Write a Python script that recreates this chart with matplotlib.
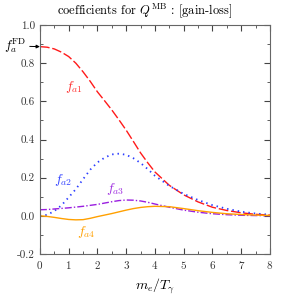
import numpy as np
import matplotlib
matplotlib.use('Agg')
import matplotlib.pyplot as plt

plt.rcParams['font.family'] = 'serif'
plt.rcParams['font.serif'] = ['cmr10', 'DejaVu Serif']
plt.rcParams['mathtext.fontset'] = 'cm'
plt.rcParams['axes.unicode_minus'] = False
plt.rcParams['axes.formatter.use_mathtext'] = True

# values
x = [0, 0.25, 0.5, 0.75, 1, 1.25, 1.5, 1.75, 2, 2.25, 2.5, 2.75, 3, 3.25, 3.5,
     3.75, 4, 4.5, 5, 5.5, 6, 6.5, 7, 7.5, 8]
fa1 = [0.887, 0.884, 0.875, 0.858, 0.835, 0.800, 0.755, 0.705, 0.650, 0.603, 0.555,
       0.503, 0.449, 0.390, 0.330, 0.278, 0.230, 0.160, 0.110, 0.073, 0.045,
       0.028, 0.016, 0.008, 0.004]
fa2 = [0.0, 0.005, 0.025, 0.055, 0.097, 0.140, 0.192, 0.242, 0.280, 0.305, 0.322,
       0.326, 0.320, 0.302, 0.277, 0.245, 0.210, 0.157, 0.115, 0.083, 0.056,
       0.037, 0.022, 0.012, 0.006]
fa3 = [0.032, 0.033, 0.036, 0.039, 0.042, 0.046, 0.050, 0.055, 0.060, 0.067, 0.074,
       0.080, 0.083, 0.082, 0.078, 0.071, 0.062, 0.045, 0.030, 0.019, 0.011,
       0.006, 0.003, 0.0015, 0.001]
fa4 = [0.0, -0.003, -0.008, -0.014, -0.019, -0.021, -0.020, -0.013, -0.004, 0.004,
       0.012, 0.021, 0.030, 0.038, 0.044, 0.048, 0.050, 0.048, 0.038, 0.027,
       0.018, 0.011, 0.007, 0.004, 0.002]

fig = plt.figure(figsize=(2.83, 2.95), dpi=100)
ax = fig.add_axes([0.141, 0.139, 0.813, 0.776])

ax.plot(x, fa1, color='#ff1a1a', lw=1.0, ls=(0, (7, 2)))
ax.plot(x, fa2, color='#2a3cff', lw=1.3, ls=(0, (0.8, 2.2)))
ax.plot(x, fa3, color='#9a1ee0', lw=1.0, ls=(0, (5, 1.5, 1, 1.5)))
ax.plot(x, fa4, color='#ffa000', lw=1.0)

ax.text(1.17, 0.675, r'$f_{a1}$', color='#ff3030', fontsize=10, ha='center', va='center')
ax.text(0.82, 0.19, r'$f_{a2}$', color='#3040ff', fontsize=10, ha='center', va='center')
ax.text(2.62, 0.14, r'$f_{a3}$', color='#a030e0', fontsize=10, ha='center', va='center')
ax.text(1.6, -0.083, r'$f_{a4}$', color='#ffa000', fontsize=10, ha='center', va='center')

ax.annotate(r'$f_a^{\rm FD}$', xy=(0, 0.887), xytext=(-0.45, 0.89),
            fontsize=9.5, ha='right', va='center', annotation_clip=False,
            arrowprops=dict(arrowstyle='-|>', color='k', lw=0.7,
                            mutation_scale=5, shrinkA=0, shrinkB=0))

ax.set_xlim(0, 8)
ax.set_ylim(-0.2, 1.0)
ax.set_xticks(np.arange(0, 9, 1))
ax.set_xticks(np.arange(0, 8.01, 0.5), minor=True)
ax.set_yticks(np.arange(-0.2, 1.01, 0.2))
ax.set_yticks(np.arange(-0.2, 1.01, 0.1), minor=True)
ax.set_yticklabels(['-0.2', '0.0', '0.2', '0.4', '0.6', '0.8', '1.0'])
ax.tick_params(which='both', direction='in', top=True, right=True, labelsize=8,
               color='#444444', labelcolor='#333333')
ax.tick_params(which='major', length=4)
ax.tick_params(which='minor', length=2)
for s in ax.spines.values():
    s.set_color('#666666')
    s.set_linewidth(0.8)

ax.set_xlabel(r'$m_e/T_\gamma$', fontsize=10)
fig.text(0.51, 0.965, r'coefficients for $Q^{\rm MB}$ : [gain-loss]',
         ha='center', va='center', fontsize=9)

fig.savefig('out.png', dpi=100)
